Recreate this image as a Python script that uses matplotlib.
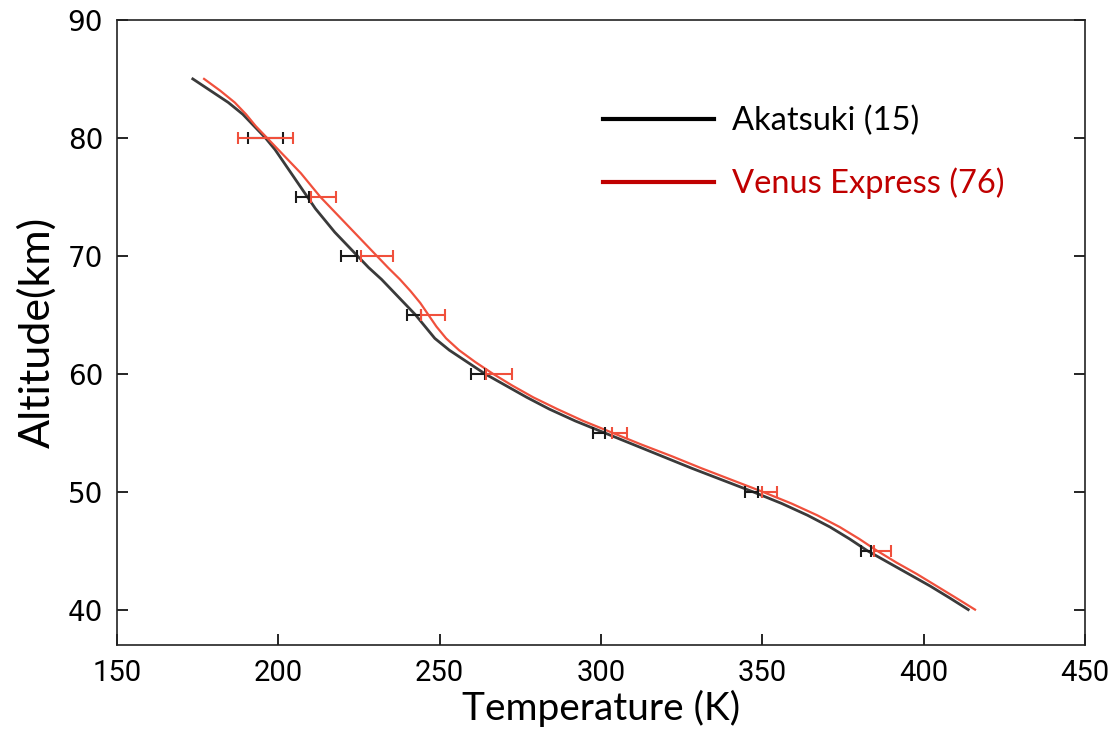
import matplotlib
matplotlib.use("Agg")
import matplotlib.pyplot as plt
from matplotlib.lines import Line2D

# Temperature profiles (K) against altitude (km)
alt = [85, 84, 83, 82, 81, 80, 79, 78, 77, 76, 75, 74, 73, 72, 71, 70, 69, 68,
       67, 66, 65, 64, 63, 62, 61, 60, 59, 58, 57, 56, 55, 54, 53, 52, 51, 50,
       49, 48, 47, 46, 45, 44, 43, 42, 41, 40]
t_akatsuki = [173.5, 179, 184.5, 189, 192.5, 196, 199, 201.5, 204, 206.5, 209,
              211.5, 214.5, 217.5, 221, 224.5, 228, 232, 235.5, 239, 242.5,
              245.5, 248.5, 253, 258.5, 264, 270.5, 277, 284, 292, 301, 310,
              319, 328, 337.5, 347, 356, 364, 371, 377, 382.5, 389, 395.5, 402,
              408, 413.8]
t_vex = [177, 182, 186.5, 190, 193, 196.5, 200, 203.5, 207, 210, 213, 216.5,
         220, 223.5, 227, 230.5, 234, 237.7, 241, 244, 246.5, 249, 252, 256,
         261, 266.5, 272.5, 279, 286.5, 294.5, 303.5, 312.5, 322, 331, 340.5,
         350, 359, 367, 374, 380, 385.5, 391.5, 398, 404, 410, 415.9]

# error bars every 5 km
err_alt = [80, 75, 70, 65, 60, 55, 50, 45]
akatsuki_mean = [196, 207.5, 222, 242, 262, 299.4, 346.7, 382.2]
akatsuki_err = [5.5, 2.0, 2.5, 2.2, 2.2, 1.9, 2.0, 1.5]
vex_mean = [196, 214, 230.5, 248, 268.4, 305.7, 352.2, 387.3]
vex_err = [8.5, 4.0, 5.0, 3.7, 4.0, 2.3, 2.4, 2.7]

black = "#3a3a3a"
red = "#f0503c"

fig = plt.figure(figsize=(11.17, 7.38), dpi=100)
ax = fig.add_axes([0.1047, 0.126, 0.8667, 0.847])

ax.plot(t_akatsuki, alt, color=black, lw=2.0, zorder=3)
ax.plot(t_vex, alt, color=red, lw=1.6, zorder=4)
ax.errorbar(akatsuki_mean, err_alt, xerr=akatsuki_err, fmt="none",
            ecolor="#1a1a1a", elinewidth=1.5, capsize=4.5, capthick=1.5, zorder=5)
ax.errorbar(vex_mean, err_alt, xerr=vex_err, fmt="none",
            ecolor=red, elinewidth=1.5, capsize=4.5, capthick=1.5, zorder=6)

ax.set_xlim(150, 450)
ax.set_ylim(37, 90)
ax.set_xticks([150, 200, 250, 300, 350, 400, 450])
ax.set_yticks([40, 50, 60, 70, 80, 90])
ax.tick_params(direction="in", length=8, width=1.2, top=False, right=True,
               pad=10)
for s in ax.spines.values():
    s.set_linewidth(1.2)
    s.set_color("#222222")

for lab in ax.get_xticklabels():
    lab.set_fontfamily(["Roboto", "DejaVu Sans"])
    lab.set_fontsize(21)
for lab in ax.get_yticklabels():
    lab.set_fontfamily(["DejaVu Sans"])
    lab.set_fontsize(20)

ax.set_xlabel("Temperature (K)", fontsize=28, family=["Lato", "DejaVu Sans"],
              labelpad=2)
ax.set_ylabel("Altitude(km)", fontsize=31, family=["Lato", "DejaVu Sans"],
              labelpad=8)

handles = [Line2D([], [], color="black", lw=3),
           Line2D([], [], color="#c00000", lw=3)]
leg = ax.legend(handles, ["Akatsuki (15)", "Venus Express (76)"],
                loc="upper left", bbox_to_anchor=(0.472, 0.91), frameon=False,
                handlelength=3.4, handletextpad=0.55, labelspacing=0.97,
                prop={"family": ["Lato", "DejaVu Sans"], "size": 23.5})
leg.get_texts()[1].set_color("#c00000")

fig.savefig("out.png", dpi=100)
